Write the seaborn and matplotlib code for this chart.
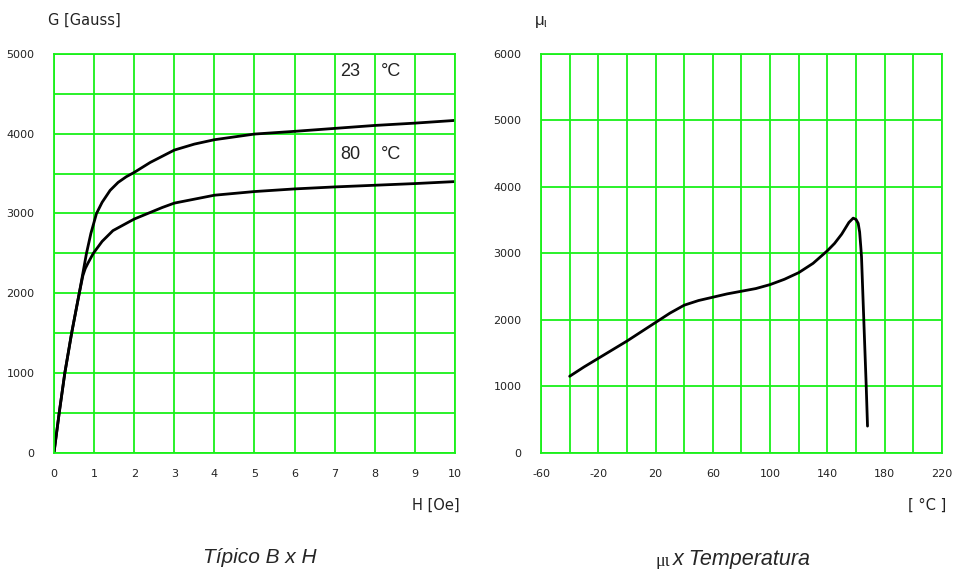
import numpy as np
import pandas as pd
import seaborn as sns
import matplotlib.pyplot as plt
from matplotlib.ticker import MultipleLocator

# B x H curves
h_23 = [0, 0.13, 0.27, 0.44, 0.63, 0.72, 0.81, 0.92, 1.06, 1.2, 1.4, 1.6, 1.8,
        2.0, 2.4, 3, 3.5, 4, 5, 6, 7, 8, 9, 10]
b_23 = [0, 500, 1000, 1500, 2000, 2250, 2500, 2750, 3000, 3140, 3290, 3390, 3460,
        3515, 3640, 3795, 3870, 3925, 3996, 4030, 4067, 4104, 4133, 4167]
h_80 = [0, 0.13, 0.27, 0.44, 0.63, 0.72, 0.78, 0.85, 0.98, 1.2, 1.47, 2.0, 2.7,
        3, 4, 5, 6, 7, 8, 9, 10]
b_80 = [0, 500, 1000, 1500, 2000, 2220, 2310, 2380, 2500, 2650, 2785, 2930, 3075,
        3130, 3229, 3275, 3308, 3333, 3354, 3375, 3400]

# mu_i x temperature
temp = [-40, -30, -20, -10, 0, 10, 20, 30, 40, 50, 60, 70, 80, 90, 100, 110, 120,
        130, 140, 145, 150, 155, 158, 160, 161.5, 162.5, 163.3, 163.8, 165.4,
        167.1, 168]
mu = [1150, 1290, 1420, 1550, 1680, 1820, 1960, 2100, 2220, 2290, 2340, 2390,
      2430, 2470, 2530, 2610, 2710, 2850, 3040, 3150, 3290, 3465, 3530, 3510,
      3450, 3320, 3100, 2950, 2000, 1000, 400]

sns.set_style("white")
plt.rcParams['font.family'] = ['Liberation Sans', 'DejaVu Sans']
plt.rcParams['axes.unicode_minus'] = False

green = '#19f019'
fig = plt.figure(figsize=(9.54, 5.69), dpi=100)
ax1 = fig.add_axes([0.0566, 0.2044, 0.4203, 0.7007])
ax2 = fig.add_axes([0.5671, 0.2044, 0.4203, 0.7007])

df_bh = pd.concat([
    pd.DataFrame({'H': h_23, 'B': b_23, 'T': '23'}),
    pd.DataFrame({'H': h_80, 'B': b_80, 'T': '80'}),
])
sns.lineplot(data=df_bh, x='H', y='B', units='T', estimator=None, sort=False,
             color='black', lw=2.0, ax=ax1, legend=False)
sns.lineplot(x=temp, y=mu, sort=False, estimator=None, color='black', lw=2.0,
             ax=ax2, legend=False)

ax1.set_xlim(0, 10)
ax1.set_ylim(0, 5000)
ax1.xaxis.set_major_locator(MultipleLocator(1))
ax1.yaxis.set_major_locator(MultipleLocator(1000))
ax1.yaxis.set_minor_locator(MultipleLocator(500))

ax2.set_xlim(-60, 220)
ax2.set_ylim(0, 6000)
ax2.set_xticks(np.arange(-60, 221, 40))
ax2.xaxis.set_minor_locator(MultipleLocator(20))
ax2.yaxis.set_major_locator(MultipleLocator(1000))

for ax in (ax1, ax2):
    ax.set_xlabel('')
    ax.set_ylabel('')
    ax.grid(which='both', color=green, lw=1.3)
    ax.set_axisbelow(True)
    for s in ax.spines.values():
        s.set_color(green)
        s.set_linewidth(1.3)
        s.set_visible(True)
    ax.tick_params(which='both', length=0, labelsize=8, labelcolor='#222222')
    ax.tick_params(axis='y', pad=14)
    ax.tick_params(axis='x', pad=12)
    for lbl in ax.get_xticklabels() + ax.get_yticklabels():
        lbl.set_family('DejaVu Sans')

# temperature labels inside the B x H panel
for val, yy in [('23', 4780), ('80', 3735)]:
    ax1.text(7.13, yy, val, fontsize=13, va='center', color='#222222')
    ax1.text(8.15, yy, '°C', fontsize=13, va='center', color='#222222')

fig.text(0.0503, 0.965, 'G [Gauss]', fontsize=10.5, va='center', ha='left',
         family='DejaVu Sans', color='#222222')
fig.text(0.482, 0.1125, 'H [Oe]', fontsize=10.5, va='center', ha='right',
         family='DejaVu Sans', color='#222222')
fig.text(0.560, 0.962, r'$\mathregular{\mu_{\iota}}$', fontsize=12, va='center', ha='left')
fig.text(0.9916, 0.1125, '[ °C ]', fontsize=10.5, va='center', ha='right',
         family='DejaVu Sans', color='#222222')
fig.text(0.2725, 0.021, 'Típico B x H', fontsize=15, style='italic', ha='center', va='center')
fig.text(0.7055, 0.016, 'x Temperatura', fontsize=15.5, style='italic', ha='left', va='center')
fig.text(0.7025, 0.014, 'μι', fontsize=13, family='Liberation Serif', ha='right', va='center')

fig.savefig('out.png', dpi=100, facecolor='white')
